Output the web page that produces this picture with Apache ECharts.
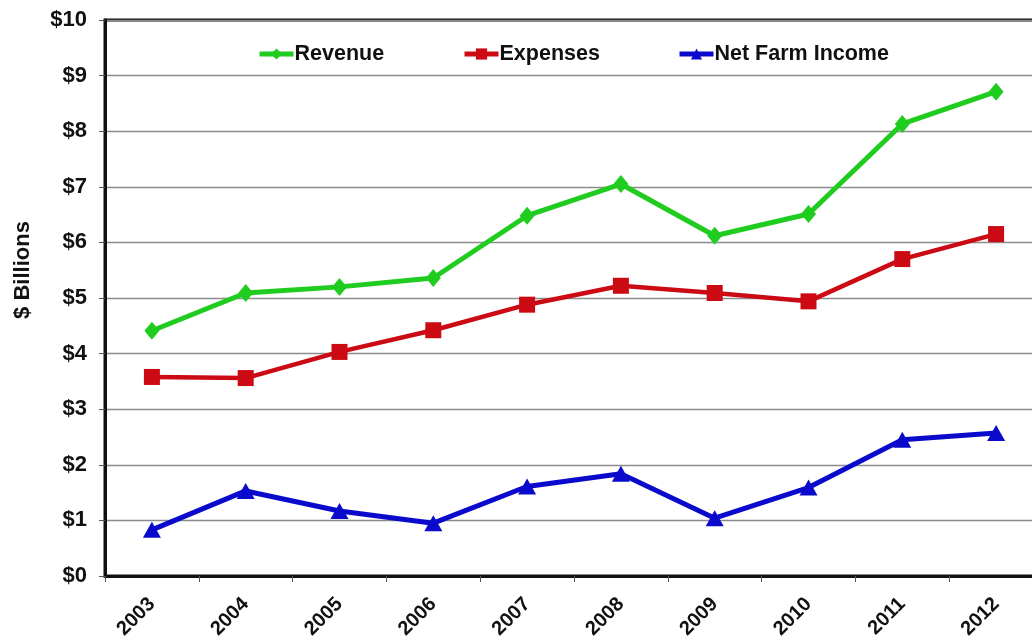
<!DOCTYPE html>
<html>
<head>
<meta charset="utf-8">
<script src="https://cdn.jsdelivr.net/npm/echarts@6/dist/echarts.min.js"></script>
<style>
  html, body { margin: 0; padding: 0; background: #ffffff; }
  #chart { width: 1032px; height: 642px; }
</style>
</head>
<body>
<div id="chart"></div>
<script>
// Farm revenue, expenses and net farm income, $ billions
const years = ['2003', '2004', '2005', '2006', '2007', '2008', '2009', '2010', '2011', '2012'];
const revenue = [4.41, 5.09, 5.20, 5.36, 6.48, 7.05, 6.12, 6.51, 8.13, 8.71];
const expenses = [3.58, 3.56, 4.03, 4.42, 4.88, 5.22, 5.09, 4.94, 5.70, 6.15];
const netFarmIncome = [0.83, 1.53, 1.17, 0.95, 1.61, 1.84, 1.04, 1.59, 2.45, 2.57];
const yTicks = [0, 1, 2, 3, 4, 5, 6, 7, 8, 9, 10];

const FONT = 'Liberation Sans, Arial, sans-serif';
const GREEN = '#1fcc1f';
const RED = '#cc0a14';
const BLUE = '#0a0acc';

const chart = echarts.init(document.getElementById('chart'), null, { renderer: 'canvas' });

function legendAt(name, left) {
  return {
    data: [name],
    left: left,
    top: 38,
    itemWidth: 34,
    itemHeight: 14,
    itemGap: 0,
    lineStyle: { width: 5 },
    textStyle: { fontFamily: FONT, fontWeight: 'bold', fontSize: 21.5, color: '#111', padding: [0, 0, 0, -4] }
  };
}

chart.setOption({
  backgroundColor: '#ffffff',
  animation: false,
  legend: [
    legendAt('Revenue', 252),
    legendAt('Expenses', 457),
    legendAt('Net Farm Income', 672)
  ],
  // plot area runs a little past the right edge of the canvas
  grid: {
    left: 105, width: 938, top: 20, height: 556,
    outerBoundsMode: 'none',
    containLabel: false,
    show: true, borderColor: '#111', borderWidth: 3, backgroundColor: 'transparent'
  },
  graphic: [{
    type: 'text',
    x: 23,
    y: 270,
    rotation: Math.PI / 2,
    style: {
      text: '$ Billions',
      fontFamily: FONT, fontWeight: 'bold', fontSize: 22, fill: '#111',
      align: 'center', verticalAlign: 'middle'
    }
  }],
  xAxis: {
    type: 'category',
    data: years,
    boundaryGap: true,
    axisLine: { lineStyle: { color: '#111', width: 3 } },
    axisTick: { show: true, length: 6, lineStyle: { color: '#555', width: 1 } },
    axisLabel: {
      rotate: 45, margin: 25,
      fontFamily: FONT, fontWeight: 'bold', fontSize: 20, color: '#111'
    },
    splitLine: { show: false }
  },
  yAxis: {
    type: 'value',
    min: yTicks[0], max: yTicks[yTicks.length - 1], interval: 1,
    axisLine: { show: true, lineStyle: { color: '#111', width: 3 } },
    axisTick: { show: true, length: 6, lineStyle: { color: '#555', width: 1 } },
    axisLabel: {
      margin: 18,
      formatter: v => '$' + v,
      fontFamily: FONT, fontWeight: 'bold', fontSize: 22, color: '#111'
    },
    splitLine: { show: true, lineStyle: { color: '#8c8c8c', width: 1.3 } }
  },
  series: [
    {
      name: 'Revenue', type: 'line', data: revenue,
      symbol: 'diamond', symbolSize: [15, 18],
      lineStyle: { color: GREEN, width: 5 },
      itemStyle: { color: GREEN },
      z: 3
    },
    {
      name: 'Expenses', type: 'line', data: expenses,
      symbol: 'rect', symbolSize: 16,
      lineStyle: { color: RED, width: 4.5 },
      itemStyle: { color: RED },
      z: 3
    },
    {
      name: 'Net Farm Income', type: 'line', data: netFarmIncome,
      symbol: 'triangle', symbolSize: [18, 16],
      lineStyle: { color: BLUE, width: 5 },
      itemStyle: { color: BLUE },
      z: 3
    }
  ]
});
</script>
</body>
</html>
